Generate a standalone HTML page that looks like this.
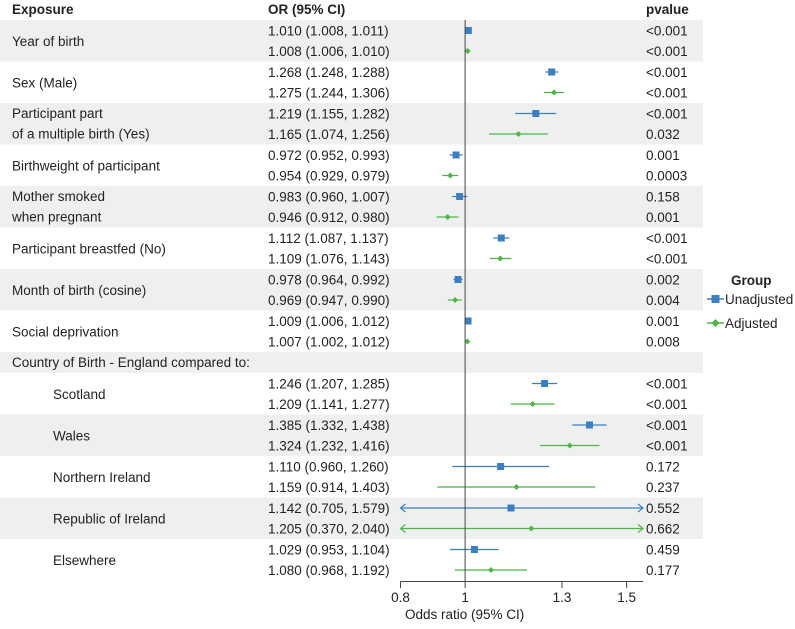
<!DOCTYPE html>
<html><head><meta charset="utf-8"><style>
body{margin:0;background:#fff;font-family:"Liberation Sans",Arial,sans-serif}
svg text{font-family:"Liberation Sans",Arial,sans-serif;fill:#222}
</style></head><body>
<svg id="chart" width="795" height="624" xmlns="http://www.w3.org/2000/svg"></svg>
<script>
const groups = ["Year of birth","Sex (Male)","Participant part|of a multiple birth (Yes)","Birthweight of participant","Mother smoked|when pregnant","Participant breastfed (No)","Month of birth (cosine)","Social deprivation","#Country of Birth - England compared to:","Scotland","Wales","Northern Ireland","Republic of Ireland","Elsewhere"];
const unadjOR = [1.010,1.268,1.219,0.972,0.983,1.112,0.978,1.009,null,1.246,1.385,1.110,1.142,1.029];
const unadjLo = [1.008,1.248,1.155,0.952,0.960,1.087,0.964,1.006,null,1.207,1.332,0.960,0.705,0.953];
const unadjHi = [1.011,1.288,1.282,0.993,1.007,1.137,0.992,1.012,null,1.285,1.438,1.260,1.579,1.104];
const unadjP = ["<0.001","<0.001","<0.001","0.001","0.158","<0.001","0.002","0.001",null,"<0.001","<0.001","0.172","0.552","0.459"];
const adjOR = [1.008,1.275,1.165,0.954,0.946,1.109,0.969,1.007,null,1.209,1.324,1.159,1.205,1.080];
const adjLo = [1.006,1.244,1.074,0.929,0.912,1.076,0.947,1.002,null,1.141,1.232,0.914,0.370,0.968];
const adjHi = [1.010,1.306,1.256,0.979,0.980,1.143,0.990,1.012,null,1.277,1.416,1.403,2.040,1.192];
const adjP = ["<0.001","<0.001","0.032","0.0003","0.001","<0.001","0.004","0.008",null,"<0.001","<0.001","0.237","0.662","0.177"];
const ticks = [0.8,1,1.3,1.5];

const svg=document.getElementById('chart');
const NS='http://www.w3.org/2000/svg';
function mk(t,a,p){const e=document.createElementNS(NS,t);for(const k in a)e.setAttribute(k,a[k]);(p||svg).appendChild(e);return e;}
const xMin=0.8,pxMin=400.5,pxPer=323;
function X(v){return pxMin+(v-xMin)*pxPer;}
const clipL=X(xMin), clipR=643;
const fmt=v=>v.toFixed(3);
const FS=13.5;
let y=20; const G=41.5;
const BLUE="#3c7fc0", GREEN="#4fb548";
groups.forEach((g,i)=>{
  const isHdr=g[0]==='#';
  const h=isHdr?21:G;
  if(i%2===0){const b=mk('rect',{x:0,y:y,width:703,height:h,fill:'#eef0ef'});
    
    }
  if(isHdr){
    const t=mk('text',{x:12,y:y+15,'font-size':FS});t.textContent=g.slice(1);
    
    
    y+=h;return;}
  const indent=i>8?53:12;
  const parts=g.split('|');
  if(parts.length===1){const t=mk('text',{x:indent,y:y+26,'font-size':FS});t.textContent=g;
    
    }
  else parts.forEach((p,k)=>{const t=mk('text',{x:indent,y:y+15+k*20.5,'font-size':FS});t.textContent=p;
    
    });
  [[unadjOR,unadjLo,unadjHi,unadjP,BLUE,'unadjusted'],[adjOR,adjLo,adjHi,adjP,GREEN,'adjusted']].forEach((s,k)=>{
    const cy=y+10.5+k*20.5;
    const o=s[0][i],lo=s[1][i],hi=s[2][i];
    const t=mk('text',{x:268,y:cy+5,'font-size':FS});t.textContent=fmt(o)+' ('+fmt(lo)+', '+fmt(hi)+')';
    
    
    const p=mk('text',{x:646,y:cy+5,'font-size':FS});p.textContent=s[3][i];
    
    
    const x1=Math.max(X(lo),clipL),x2=Math.min(X(hi),clipR);
    const l=mk('line',{x1:x1,x2:x2,y1:cy,y2:cy,stroke:s[4],'stroke-width':1.2});
    
    
    if(X(lo)<clipL){const a=mk('polyline',{points:`${x1+5},${cy-4} ${x1},${cy} ${x1+5},${cy+4}`,fill:'none',stroke:s[4],'stroke-width':1.2});
      }
    if(X(hi)>clipR){const a=mk('polyline',{points:`${x2-5},${cy-4} ${x2},${cy} ${x2-5},${cy+4}`,fill:'none',stroke:s[4],'stroke-width':1.2});
      }
    const cx=X(o);
    let m;
    if(k===0) m=mk('rect',{x:cx-3.5,y:cy-3.5,width:7,height:7,fill:BLUE});
    else m=mk('polygon',{points:`${cx},${cy-3} ${cx+3},${cy} ${cx},${cy+3} ${cx-3},${cy}`,fill:GREEN});
    
    
  });
  y+=h;
});
const ref=mk('line',{x1:X(1),x2:X(1),y1:20,y2:581,stroke:'#444','stroke-width':1});


const ax=mk('line',{x1:clipL,x2:clipR,y1:581.5,y2:581.5,stroke:'#444','stroke-width':1});


ticks.forEach(v=>{
  const tk=mk('line',{x1:X(v),x2:X(v),y1:581.5,y2:588,stroke:'#444'});
  
  
  const tl=mk('text',{x:X(v),y:602,'font-size':FS,'text-anchor':'middle'});tl.textContent=String(v);
  
  
});
const at=mk('text',{x:405,y:619,'font-size':FS});at.textContent='Odds ratio (95% CI)';


[['Exposure',12,'header-exposure'],['OR (95% CI)',268,'header-or'],['pvalue',646,'header-pvalue']].forEach(h=>{
  const t=mk('text',{x:h[1],y:14,'font-size':FS,'font-weight':'bold'});t.textContent=h[0];
  
  
});
const lg=mk('text',{x:731,y:285,'font-size':FS,'font-weight':'bold'});lg.textContent='Group';


[['Unadjusted',BLUE,299,0],['Adjusted',GREEN,323,1]].forEach(e=>{
  const g=mk('g',{});
  
  
  mk('line',{x1:707,x2:724,y1:e[2],y2:e[2],stroke:e[1],'stroke-width':1.5},g);
  if(e[3]===0) mk('rect',{x:711.5,y:e[2]-4,width:8,height:8,fill:e[1]},g);
  else mk('polygon',{points:`715.5,${e[2]-4} 719.5,${e[2]} 715.5,${e[2]+4} 711.5,${e[2]}`,fill:e[1]},g);
  const t=mk('text',{x:725,y:e[2]+5,'font-size':FS},g);t.textContent=e[0];
});
</script>
</body></html>
